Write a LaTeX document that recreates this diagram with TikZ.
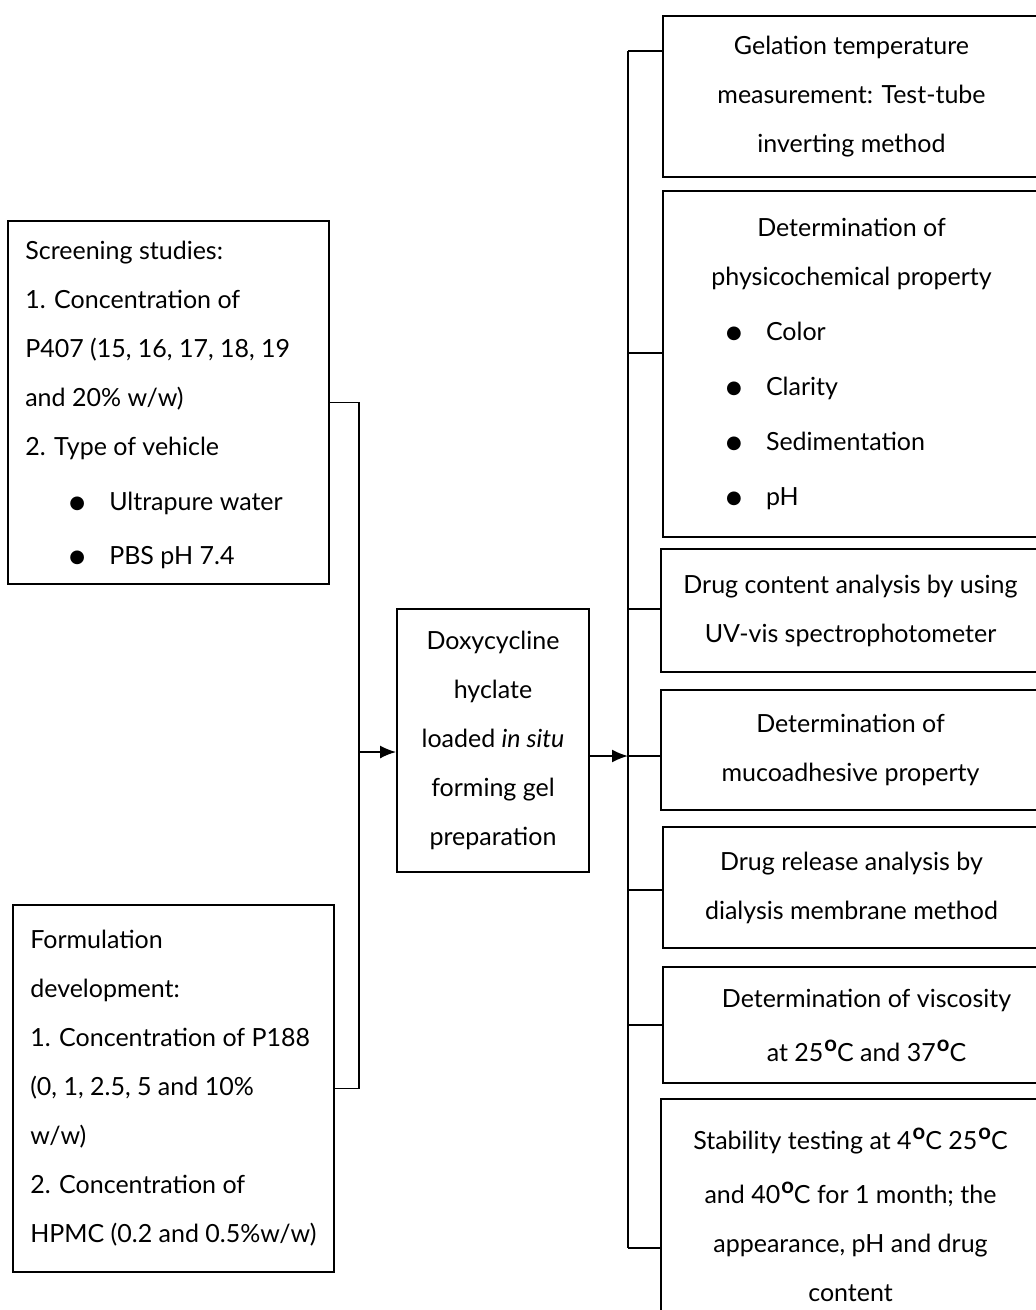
\documentclass[tikz,border=0pt]{standalone}
\usepackage{fontspec}
\setmainfont{Lato}
\newfontfamily\dejavu{DejaVu Sans}
\usetikzlibrary{arrows.meta}
\newcommand{\bul}{\raisebox{2pt}{\dejavu\fontsize{18}{18}\selectfont ●}}
\newcommand{\dgc}{\hspace{1pt}\raisebox{10pt}{\fontsize{22}{22}\selectfont\bfseries o}C}
\newcommand{\litem}[1]{\hspace*{44pt}\makebox[40pt][l]{\bul}#1}
\newcommand{\ritem}[1]{\makebox[251pt][l]{\makebox[40pt][l]{\bul}#1}}
\begin{document}
\begin{tikzpicture}[x=1pt,y=-1pt,
  txt/.style={font=\fontsize{25}{49}\selectfont},
  box/.style={draw, line width=1.8pt, inner sep=0pt, align=center, txt},
  ltxt/.style={inner sep=0pt, align=left, anchor=west, txt},
  conn/.style={line width=1.8pt},
  arr/.style={conn, -{Latex[length=16pt,width=13pt]}}]

\useasboundingbox[fill=white] (0,0) rectangle (1036,1310);

% left boxes
\node[box, minimum width=321pt, minimum height=363pt] (s1) at (168.5,402.5) {};
\node[ltxt] (s1t) at ([xshift=18pt,yshift=-2pt]s1.west) {Screening studies:\\
1. Concentration of\\
P407 (15, 16, 17, 18, 19\\
and 20\% w/w)\\
2. Type of vehicle\\[6pt]
\litem{Ultrapure water}\\[5pt]
\litem{PBS pH 7.4}};

\node[box, minimum width=321pt, minimum height=367pt] (s2) at (173.5,1088.5) {};
\node[ltxt] (s2t) at ([xshift=18pt]s2.west) {Formulation\\
development:\\
1. Concentration of P188\\
(0, 1, 2.5, 5 and 10\%\\
w/w)\\
2. Concentration of\\
HPMC (0.2 and 0.5\%w/w)};

% centre box
\node[box, minimum width=192pt, minimum height=263pt] (ctr) at (493,740.5)
  {Doxycycline\\ hyclate\\ loaded \textit{in situ}\\ forming gel\\ preparation};

% right boxes
\node[box, minimum width=377pt, minimum height=161pt] (r1) at (851.5,96.5)
  {Gelation temperature\\ measurement: Test-tube\\ inverting method};
\node[box, minimum width=377pt, minimum height=346pt] (r2) at (851.5,364)
  {Determination of\\ physicochemical property\\[6pt]
   \ritem{Color}\\[6pt] \ritem{Clarity}\\[6pt] \ritem{Sedimentation}\\[6pt] \ritem{pH}};
\node[box, minimum width=379pt, minimum height=123pt] (r3) at (850.5,610.5)
  {Drug content analysis by using\\ UV-vis spectrophotometer};
\node[box, minimum width=379pt, minimum height=120pt] (r4) at (850.5,750)
  {Determination of\\ mucoadhesive property};
\node[box, minimum width=377pt, minimum height=121pt] (r5) at (851.5,887.5)
  {Drug release analysis by\\ dialysis membrane method};
\node[box, minimum width=377pt, minimum height=116pt] (r6) at (851.5,1025)
  {\hspace*{30pt}Determination of viscosity\\[5pt] \hspace*{30pt}at 25\dgc{} and 37\dgc};
\node[box, minimum width=379pt, minimum height=231pt] (r7) at (850.5,1214.5)
  {Stability testing at 4\dgc{} 25\dgc\\[5pt] and 40\dgc{} for 1 month; the\\ appearance, pH and drug\\ content};

% left connectors
\coordinate (lb) at (359,752);
\draw[conn] (s1.east) -| (lb) |- (s2.east);
\draw[arr] (lb) -- (lb -| ctr.west);

% right bus
\coordinate (b1) at (628,51);
\coordinate (b2) at (628,353);
\coordinate (b3) at (628,609);
\coordinate (b4) at (628,756);
\coordinate (b5) at (628,890);
\coordinate (b6) at (628,1025);
\coordinate (b7) at (628,1248);
\draw[conn] (b1) -- (b7);
\foreach \i in {1,...,7} {\draw[conn] (b\i) -- (b\i -| r\i.west);}
\draw[arr] (ctr.east |- b4) -- (b4);
\end{tikzpicture}
\end{document}
